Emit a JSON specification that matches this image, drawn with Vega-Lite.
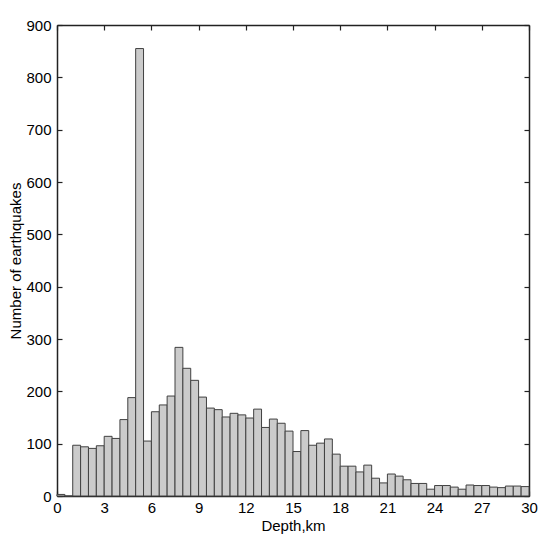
{
  "$schema": "https://vega.github.io/schema/vega-lite/v6.json",
  "width": 472,
  "height": 471,
  "autosize": {"type": "none"},
  "padding": {"left": 57, "top": 25, "right": 21, "bottom": 45},
  "background": "white",
  "config": {
    "view": {"stroke": null},
    "font": "Liberation Sans",
    "axis": {
      "labelFont": "Liberation Sans",
      "titleFont": "Liberation Sans",
      "labelFontSize": 15,
      "titleFontSize": 15,
      "titleFontWeight": "normal",
      "labelColor": "#000",
      "titleColor": "#000",
      "domainColor": "#222",
      "domainWidth": 1.5,
      "tickColor": "#222",
      "tickWidth": 1.2,
      "tickSize": -5,
      "labelFlush": false,
      "grid": false
    }
  },
  "data": {
    "values": [
      {"d0": 0.0, "d1": 0.5, "count": 3},
      {"d0": 0.5, "d1": 1.0, "count": 0},
      {"d0": 1.0, "d1": 1.5, "count": 97},
      {"d0": 1.5, "d1": 2.0, "count": 94},
      {"d0": 2.0, "d1": 2.5, "count": 91},
      {"d0": 2.5, "d1": 3.0, "count": 96},
      {"d0": 3.0, "d1": 3.5, "count": 114},
      {"d0": 3.5, "d1": 4.0, "count": 110},
      {"d0": 4.0, "d1": 4.5, "count": 146},
      {"d0": 4.5, "d1": 5.0, "count": 188},
      {"d0": 5.0, "d1": 5.5, "count": 855},
      {"d0": 5.5, "d1": 6.0, "count": 105},
      {"d0": 6.0, "d1": 6.5, "count": 161},
      {"d0": 6.5, "d1": 7.0, "count": 174},
      {"d0": 7.0, "d1": 7.5, "count": 191},
      {"d0": 7.5, "d1": 8.0, "count": 284},
      {"d0": 8.0, "d1": 8.5, "count": 244},
      {"d0": 8.5, "d1": 9.0, "count": 221},
      {"d0": 9.0, "d1": 9.5, "count": 189},
      {"d0": 9.5, "d1": 10.0, "count": 168},
      {"d0": 10.0, "d1": 10.5, "count": 165},
      {"d0": 10.5, "d1": 11.0, "count": 151},
      {"d0": 11.0, "d1": 11.5, "count": 158},
      {"d0": 11.5, "d1": 12.0, "count": 155},
      {"d0": 12.0, "d1": 12.5, "count": 149},
      {"d0": 12.5, "d1": 13.0, "count": 166},
      {"d0": 13.0, "d1": 13.5, "count": 131},
      {"d0": 13.5, "d1": 14.0, "count": 147},
      {"d0": 14.0, "d1": 14.5, "count": 139},
      {"d0": 14.5, "d1": 15.0, "count": 124},
      {"d0": 15.0, "d1": 15.5, "count": 85},
      {"d0": 15.5, "d1": 16.0, "count": 125},
      {"d0": 16.0, "d1": 16.5, "count": 97},
      {"d0": 16.5, "d1": 17.0, "count": 101},
      {"d0": 17.0, "d1": 17.5, "count": 109},
      {"d0": 17.5, "d1": 18.0, "count": 80},
      {"d0": 18.0, "d1": 18.5, "count": 57},
      {"d0": 18.5, "d1": 19.0, "count": 57},
      {"d0": 19.0, "d1": 19.5, "count": 46},
      {"d0": 19.5, "d1": 20.0, "count": 59},
      {"d0": 20.0, "d1": 20.5, "count": 34},
      {"d0": 20.5, "d1": 21.0, "count": 25},
      {"d0": 21.0, "d1": 21.5, "count": 42},
      {"d0": 21.5, "d1": 22.0, "count": 38},
      {"d0": 22.0, "d1": 22.5, "count": 31},
      {"d0": 22.5, "d1": 23.0, "count": 24},
      {"d0": 23.0, "d1": 23.5, "count": 24},
      {"d0": 23.5, "d1": 24.0, "count": 13},
      {"d0": 24.0, "d1": 24.5, "count": 20},
      {"d0": 24.5, "d1": 25.0, "count": 20},
      {"d0": 25.0, "d1": 25.5, "count": 17},
      {"d0": 25.5, "d1": 26.0, "count": 13},
      {"d0": 26.0, "d1": 26.5, "count": 21},
      {"d0": 26.5, "d1": 27.0, "count": 20},
      {"d0": 27.0, "d1": 27.5, "count": 20},
      {"d0": 27.5, "d1": 28.0, "count": 17},
      {"d0": 28.0, "d1": 28.5, "count": 16},
      {"d0": 28.5, "d1": 29.0, "count": 19},
      {"d0": 29.0, "d1": 29.5, "count": 19},
      {"d0": 29.5, "d1": 30.0, "count": 18}
    ]
  },
  "layer": [
    {
      "mark": {"type": "bar", "fill": "#cbcbcb", "stroke": "#404040", "strokeWidth": 1},
      "encoding": {
        "x": {
          "field": "d0", "type": "quantitative",
          "scale": {"domain": [0, 30], "nice": false, "zero": false},
          "axis": {"orient": "bottom", "title": "Depth,km", "values": [0, 3, 6, 9, 12, 15, 18, 21, 24, 27, 30], "labelPadding": 9, "titlePadding": 3}
        },
        "x2": {"field": "d1"},
        "y": {
          "field": "count", "type": "quantitative",
          "scale": {"domain": [0, 900], "nice": false},
          "axis": {"orient": "left", "title": "Number of earthquakes", "values": [0, 100, 200, 300, 400, 500, 600, 700, 800, 900], "labelPadding": 11, "titlePadding": 2}
        },
        "y2": {"datum": 0}
      }
    },
    {
      "mark": {"type": "bar", "opacity": 0},
      "encoding": {
        "x": {
          "field": "d0", "type": "quantitative",
          "scale": {"domain": [0, 30], "nice": false, "zero": false},
          "axis": {"orient": "top", "title": null, "labels": false, "values": [0, 3, 6, 9, 12, 15, 18, 21, 24, 27, 30]}
        },
        "x2": {"field": "d1"},
        "y": {
          "field": "count", "type": "quantitative",
          "scale": {"domain": [0, 900], "nice": false},
          "axis": {"orient": "right", "title": null, "labels": false, "values": [0, 100, 200, 300, 400, 500, 600, 700, 800, 900]}
        },
        "y2": {"datum": 0}
      }
    }
  ],
  "resolve": {"axis": {"x": "independent", "y": "independent"}}
}
